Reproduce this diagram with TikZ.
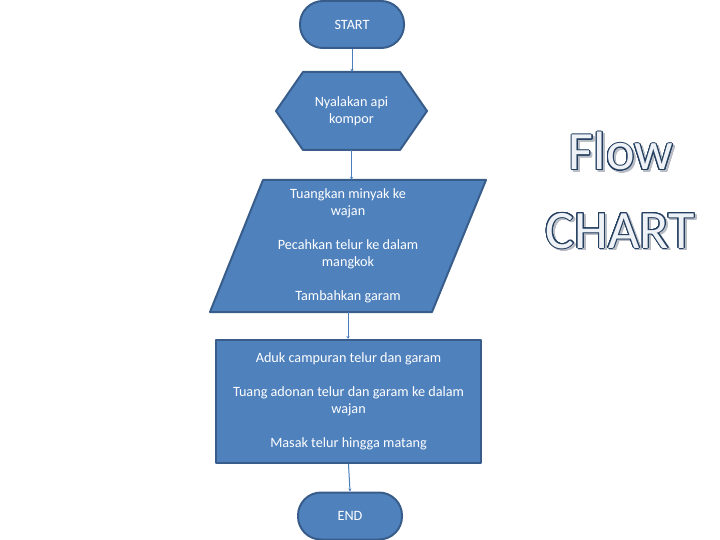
\documentclass[tikz,border=0pt]{standalone}
\usepackage{fontspec}
\setmainfont{Carlito}
\usepackage{contour}
\usetikzlibrary{arrows.meta}
\definecolor{boxfill}{HTML}{4F81BD}
\definecolor{boxline}{HTML}{385D8A}
\definecolor{connclr}{HTML}{4A7EBB}
\definecolor{titleline}{HTML}{243F60}
\definecolor{titlefill}{HTML}{EEF2F7}
\definecolor{titleshadow}{HTML}{B8BCC4}
\contourlength{1pt}
\contournumber{24}
\begin{document}
\begin{tikzpicture}[x=1pt,y=-1pt,
 shapebox/.style={fill=boxfill,draw=boxline,line width=2pt,line join=round},
 lbl/.style={text=white,font=\fontsize{14.2}{17}\selectfont,align=center,inner sep=0pt},
 connector/.style={draw=connclr,line width=1pt,-{Stealth[length=3pt,width=3pt]}},
 titletext/.style={font=\fontsize{54}{60}\selectfont,inner sep=0pt,anchor=base}]
\useasboundingbox (0,0) rectangle (720,540);
% start
\node[shapebox, lbl, rounded corners=23pt, minimum width=104pt, minimum height=47pt] (start) at (352,24.5) {START};
% hexagon
\draw[shapebox] (303,72) -- (400,72) -- (427,111) -- (400,150) -- (303,150) -- (276,111) -- cycle;
\node[lbl, minimum width=151pt, minimum height=78pt] (hex) at (351.5,111) {Nyalakan api\\kompor};
% parallelogram
\draw[shapebox] (263,180) -- (486,180) -- (432,312) -- (210,312) -- cycle;
\node[lbl, minimum width=276pt, minimum height=132pt] (para) at (348,246) {Tuangkan minyak ke\\wajan\\[17pt]Pecahkan telur ke dalam\\mangkok\\[17pt]Tambahkan garam};
% rectangle
\node[shapebox, lbl, minimum width=265pt, minimum height=123pt] (proc) at (348.5,401.5) {Aduk campuran telur dan garam\\[17pt]Tuang adonan telur dan garam ke dalam\\wajan\\[17pt]Masak telur hingga matang};
% end
\node[shapebox, lbl, rounded corners=23pt, minimum width=104pt, minimum height=47pt] (finish) at (350,516) {END};
% connectors
\draw[connector] (start.south) -- (start.south |- hex.north);
\draw[connector] (hex.south) -- (hex.south |- para.north);
\draw[connector] (para.south) -- (para.south |- proc.north);
\draw[connector] (proc.south) -- (finish.north);
% title
\node[titletext] (flowshadow) at (623,172) {\contour{titleshadow}{\textcolor{titleshadow}{Flow}}};
\node[titletext] (flow) at (621,170) {\contour{titleline}{\textcolor{titlefill}{Flow}}};
\node[titletext] (chartshadow) at (622,250) {\contour{titleshadow}{\textcolor{titleshadow}{CHART}}};
\node[titletext] (chart) at (620,248) {\contour{titleline}{\textcolor{titlefill}{CHART}}};
\end{tikzpicture}
\end{document}
